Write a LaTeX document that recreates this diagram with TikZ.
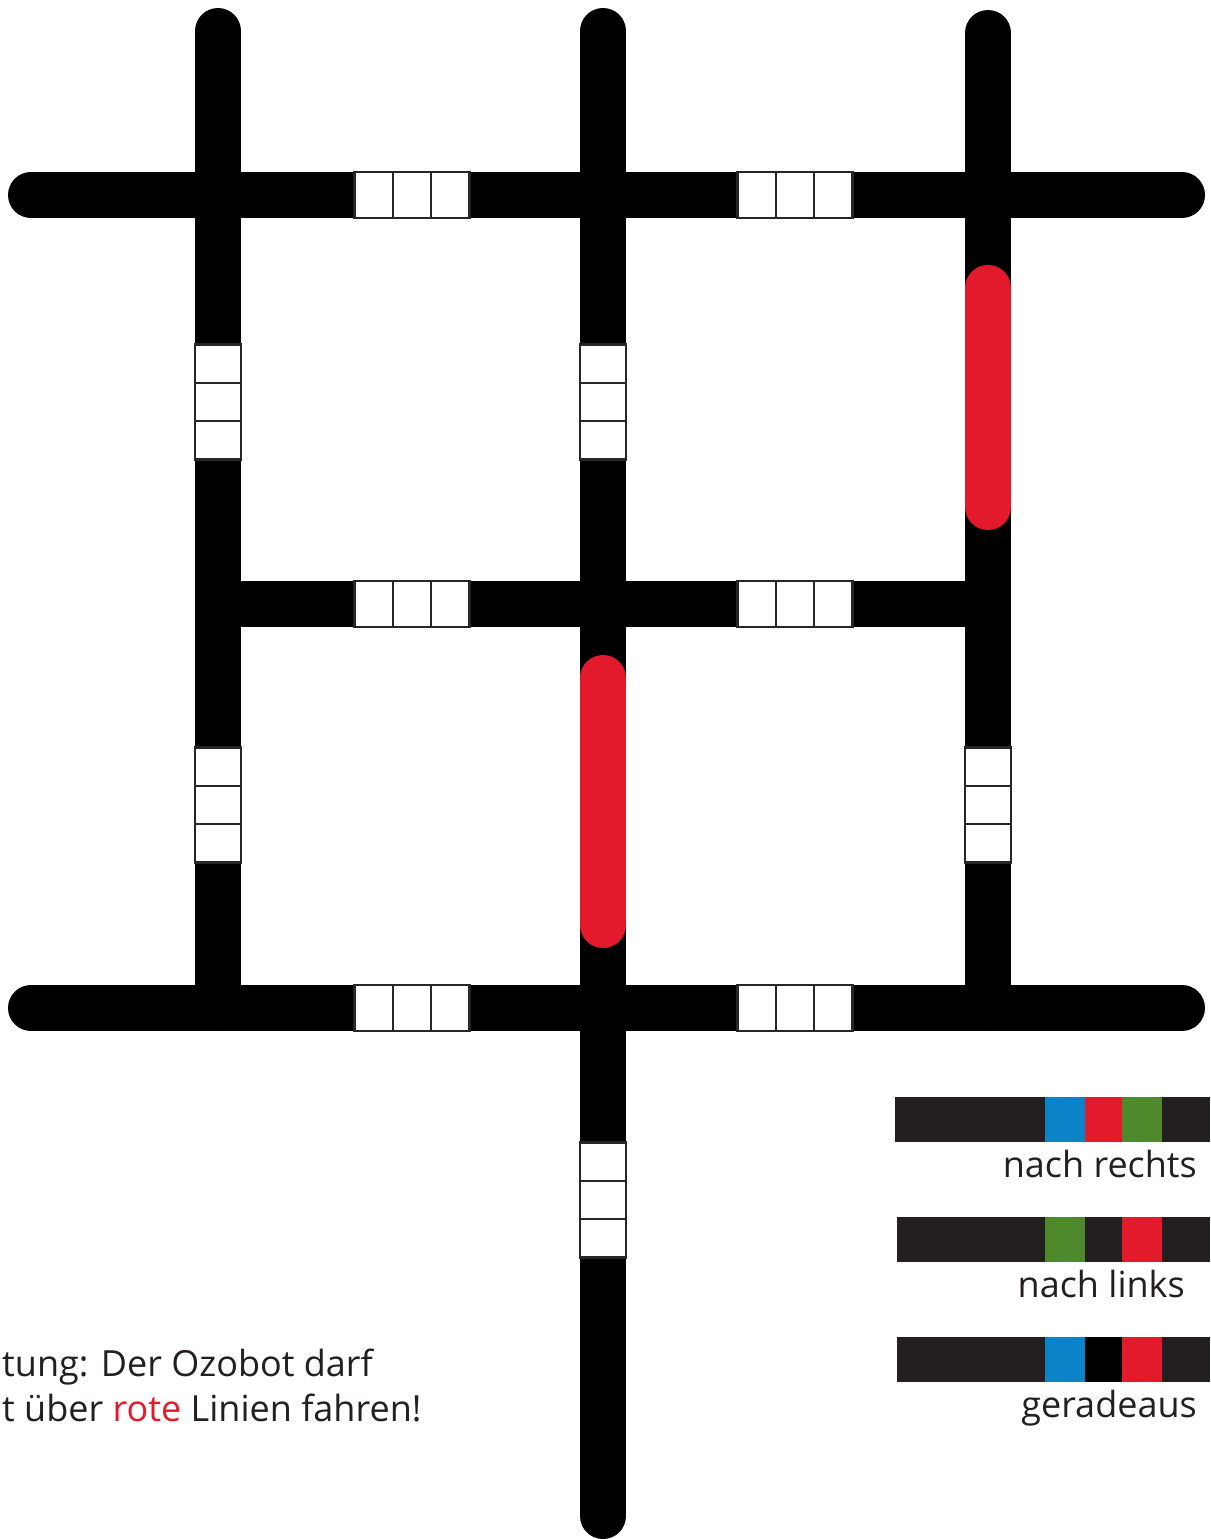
\documentclass[tikz,border=0pt]{standalone}
\usepackage{fontspec}
\setmainfont{Open Sans}
\definecolor{ozored}{HTML}{E21A2C}
\definecolor{ozoblue}{HTML}{0A83C9}
\definecolor{ozogreen}{HTML}{4E8A2C}
\definecolor{barblack}{HTML}{231F20}
\tikzset{
  track/.style={draw=black, line width=46pt, line cap=round},
  redtrack/.style={draw=ozored, line width=46pt, line cap=round},
  cell/.style={draw=black!85, line width=2.5pt, fill=white},
  lab/.style={font=\fontsize{36}{43}\selectfont, text=barblack, inner sep=0pt},
}

\begin{document}
\begin{tikzpicture}[x=1pt,y=-1pt]
\useasboundingbox (0,0) rectangle (1210,1539);
\def\xa{218}
\def\xb{603}
\def\xc{988}
\def\ya{195}
\def\yb{604}
\def\yc{1008}
% horizontal lines
\draw[track] (31,\ya) -- (1182,\ya);
\draw[track] (31,\yc) -- (1182,\yc);
\draw[draw=black, line width=46pt] (\xa,\yb) -- (\xc,\yb);
% vertical lines
\draw[track] (\xa,31) -- (\xa,\yc);
\draw[track] (\xb,31) -- (\xb,1516);
\draw[track] (\xc,33) -- (\xc,\yc);
% red lines (forbidden)
\draw[redtrack] (\xc,288) -- (\xc,507);
\draw[redtrack] (\xb,678) -- (\xb,925);
% code cells on horizontal lines
\foreach \cx in {412,795}
  \foreach \cy in {\ya,\yb,\yc}
    \foreach \i in {-1,0,1}
      \draw[cell] (\cx+\i*38.33-19.17,\cy-23) rectangle ++(38.33,46);
% code cells on vertical lines
\foreach \cx/\cy in {\xa/402, \xa/805, \xb/402, \xb/1200, \xc/805}
  \foreach \i in {-1,0,1}
    \draw[cell] (\cx-23,\cy+\i*38.33-19.17) rectangle ++(46,38.33);
% legend bars
\fill[barblack] (895,1097) rectangle (1210,1142);
\fill[ozoblue] (1045,1097) rectangle (1085,1142);
\fill[ozored] (1085,1097) rectangle (1122,1142);
\fill[ozogreen] (1122,1097) rectangle (1162,1142);
\node[lab, anchor=base east] (lblright) at (1197,1177) {nach rechts};
\fill[barblack] (897,1217) rectangle (1210,1262);
\fill[ozogreen] (1045,1217) rectangle (1085,1262);
\fill[ozored] (1122,1217) rectangle (1162,1262);
\node[lab, anchor=base east] (lblleft) at (1185,1297) {nach links};
\fill[barblack] (897,1337) rectangle (1210,1382);
\fill[ozoblue] (1045,1337) rectangle (1085,1382);
\fill[black] (1085,1337) rectangle (1122,1382);
\fill[ozored] (1122,1337) rectangle (1162,1382);
\node[lab, anchor=base east] (lblstraight) at (1197,1417) {geradeaus};
% warning
\node[lab, anchor=base west] (warn1) at (2,1376) {tung: Der Ozobot darf};
\node[lab, anchor=base west] (warn2) at (2,1421) {t über \textcolor{ozored}{rote} Linien fahren!};
\end{tikzpicture}
\end{document}
